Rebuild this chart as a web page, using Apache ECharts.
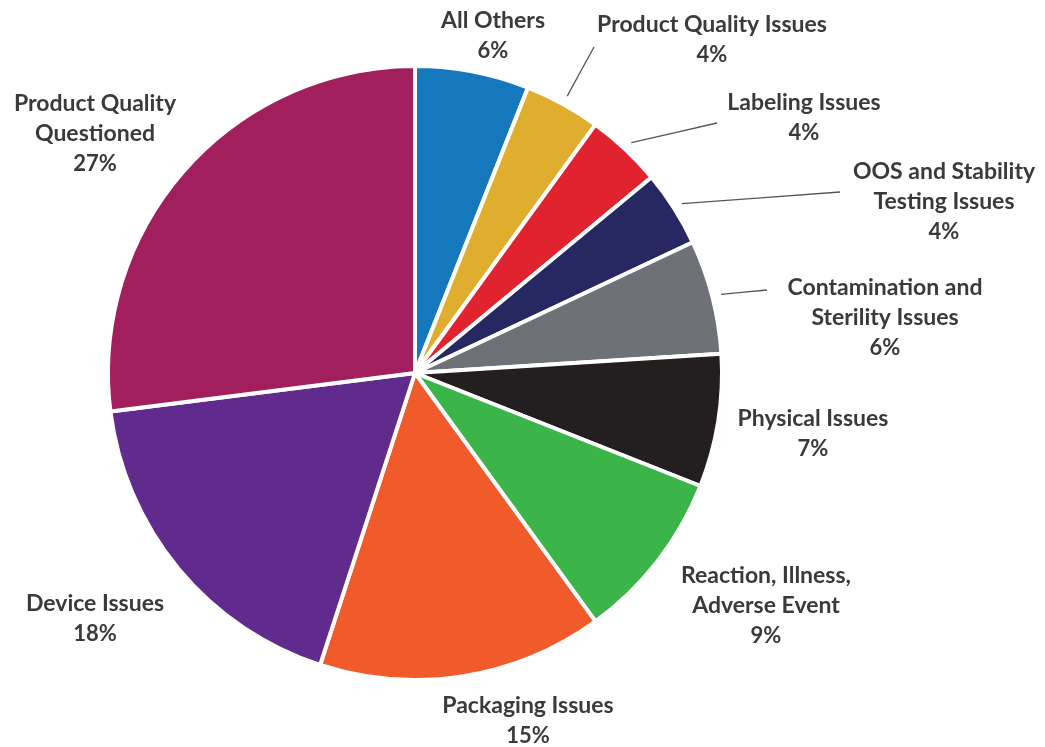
<!DOCTYPE html>
<html>
<head>
<meta charset="utf-8">
<script src="https://cdn.jsdelivr.net/npm/echarts@6/dist/echarts.min.js"></script>
<style>
html,body{margin:0;padding:0;background:#fff;}
#chart{width:1045px;height:747px;}
</style>
</head>
<body>
<div id="chart"></div>
<script>
const categories = [
  'All Others',
  'Product Quality Issues',
  'Labeling Issues',
  'OOS and Stability\nTesting Issues',
  'Contamination and\nSterility Issues',
  'Physical Issues',
  'Reaction, Illness,\nAdverse Event',
  'Packaging Issues',
  'Device Issues',
  'Product Quality\nQuestioned'
];
const values = [6, 4, 4, 4, 6, 7, 9, 15, 18, 27];
const colors = ['#1578bd', '#dfae2e', '#e1222f', '#272762', '#6e7176', '#231f20', '#3bb54a', '#f15a2a', '#602b8c', '#a11f5d'];

// label layout (center of each label block) and leader line ends
const labelPos = [
  [493, 36], [712, 40], [804, 118], [944, 202], [885, 318],
  [813, 434], [766, 606], [528, 721], [95, 619], [95, 134]
];
const lineEnd = [null, [594, 47], [717, 123], [840, 192], [767, 290], null, null, null, null, null];

const CX = 415, CY = 373, R = 307;

const chart = echarts.init(document.getElementById('chart'));
chart.setOption({
  backgroundColor: '#fff',
  animation: false,
  series: [{
    type: 'pie',
    center: [CX, CY],
    radius: [0, R],
    startAngle: 90,
    clockwise: true,
    avoidLabelOverlap: false,
    data: categories.map((c, i) => ({
      name: c,
      value: values[i],
      itemStyle: { color: colors[i] },
      labelLine: { show: lineEnd[i] !== null }
    })),
    itemStyle: { borderColor: '#fff', borderWidth: 4 },
    label: {
      show: true,
      position: 'outside',
      formatter: function (p) {
        const lines = p.name.split('\n').map(s => '{n|' + s + '}');
        lines.push('{p|' + values[p.dataIndex] + '%}');
        return lines.join('\n');
      },
      rich: {
        n: { fontFamily: 'Lato', fontWeight: 'bold', fontSize: 23, color: '#3a3a3c', lineHeight: 30, align: 'center' },
        p: { fontFamily: 'Lato', fontWeight: 'bold', fontSize: 22, color: '#3a3a3c', lineHeight: 31, align: 'center' }
      }
    },
    labelLine: {
      show: true,
      lineStyle: { color: '#555', width: 1.3 }
    },
    labelLayout: function (params) {
      const i = params.dataIndex;
      const pos = labelPos[i];
      const res = { x: pos[0], y: pos[1], align: 'center', verticalAlign: 'middle' };
      if (lineEnd[i] && params.labelLinePoints) {
        const s = params.labelLinePoints[0];
        const dx = s[0] - CX, dy = s[1] - CY;
        const d = Math.sqrt(dx * dx + dy * dy);
        const k = (d + 9) / d;
        const start = [CX + dx * k, CY + dy * k];
        const e = lineEnd[i];
        res.labelLinePoints = [start, [(start[0] + e[0]) / 2, (start[1] + e[1]) / 2], e];
      }
      return res;
    }
  }]
});
</script>
</body>
</html>
